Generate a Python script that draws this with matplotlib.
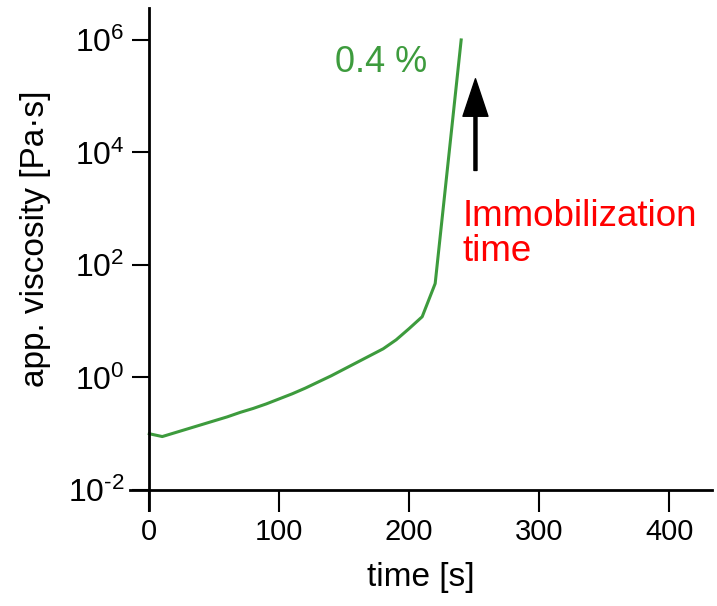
import numpy as np
import matplotlib
matplotlib.use("Agg")
import matplotlib.pyplot as plt
from matplotlib.ticker import FixedLocator, NullLocator, FuncFormatter

plt.rcParams['font.family'] = ['Liberation Sans', 'DejaVu Sans']
plt.rcParams['mathtext.fontset'] = 'custom'
plt.rcParams['mathtext.rm'] = 'Liberation Sans'
plt.rcParams['mathtext.it'] = 'Liberation Sans'
plt.rcParams['mathtext.default'] = 'regular'
plt.rcParams['axes.unicode_minus'] = False

# time [s] and log10 of apparent viscosity
time_s = [0, 10, 20, 30, 40, 50, 60, 70, 80, 90, 100, 110, 120, 130, 140,
          150, 160, 170, 180, 190, 200, 210, 220, 240]
log_visc = [-1.00, -1.05, -0.98, -0.91, -0.84, -0.77, -0.70, -0.62, -0.55,
            -0.47, -0.38, -0.29, -0.19, -0.08, 0.03, 0.15, 0.27, 0.39, 0.51,
            0.67, 0.87, 1.08, 1.67, 6.0]
viscosity = [10 ** v for v in log_visc]

x_ticks = [0, 100, 200, 300, 400]
y_ticks = [1e-2, 1e0, 1e2, 1e4, 1e6]

green = '#3d9b3d'


def pow10(v, pos):
    e = int(round(np.log10(v)))
    if e < 0:
        return r'$10^{\text{-}%d}$' % (-e)
    return r'$10^{%d}$' % e


fig = plt.figure(figsize=(7.17, 6.06), dpi=100)
ax = fig.add_axes([0.181, 0.158, 0.812, 0.829])

ax.plot(time_s, viscosity, color=green, lw=2.2)

ax.set_yscale('log')
ax.set_xlim(-15, 433)
ax.set_ylim(10 ** -2.36, 10 ** 6.57)

ax.spines['left'].set_position(('data', 0))
ax.spines['bottom'].set_position(('data', 1e-2))
ax.spines['top'].set_visible(False)
ax.spines['right'].set_visible(False)
for s in ['left', 'bottom']:
    ax.spines[s].set_linewidth(2)

ax.xaxis.set_major_locator(FixedLocator(x_ticks))
ax.yaxis.set_major_locator(FixedLocator(y_ticks))
ax.yaxis.set_major_formatter(FuncFormatter(pow10))
ax.yaxis.set_minor_locator(NullLocator())
ax.tick_params(axis='x', which='major', direction='out', length=16,
               width=1.5, labelsize=21, pad=4)
ax.tick_params(axis='y', which='major', direction='out', length=12,
               width=1.5, labelsize=23, pad=6)

ax.set_xlabel('time [s]', fontsize=24, labelpad=12)
ax.set_ylabel('app. viscosity [Pa·s]', fontsize=24)
ax.yaxis.set_label_coords(-0.135, 0.54)

ax.text(178, 10 ** 5.6, '0.4 %', color=green, fontsize=26, ha='center', va='center')
ax.text(241, 10 ** 2.55, 'Immobilization\ntime', color='red', fontsize=26.5,
        ha='left', va='center', linespacing=1.0)
ax.annotate('', xy=(251, 10 ** 5.31), xytext=(251, 10 ** 3.68),
            arrowprops=dict(width=2.2, headwidth=18, headlength=27,
                            shrink=0, color='black'))

fig.savefig('out.png', dpi=100)
